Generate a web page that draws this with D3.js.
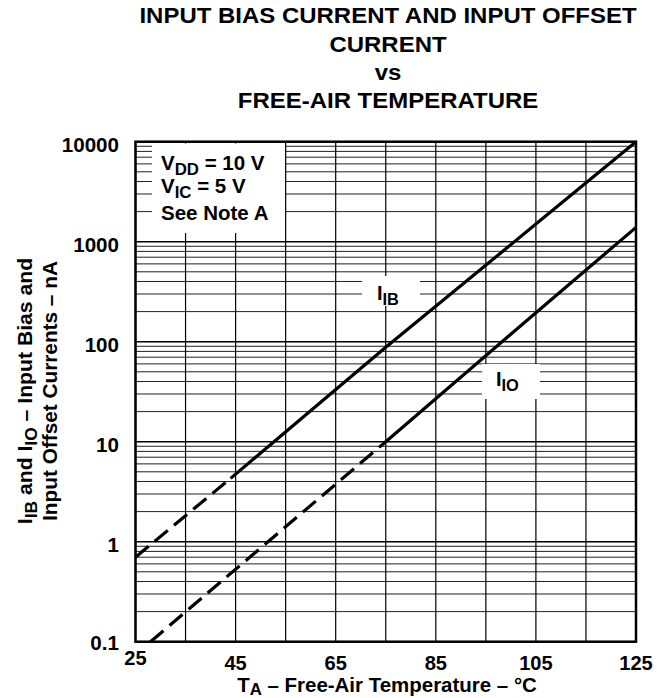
<!DOCTYPE html>
<html>
<head>
<meta charset="utf-8">
<script src="https://cdn.jsdelivr.net/npm/d3@7"></script>
<style>
  body { margin: 0; background: #fff; }
  svg { font-family: "Liberation Sans", Arial, sans-serif; font-weight: bold; }
</style>
</head>
<body>
<svg id="chart" width="657" height="698"></svg>
<script>
// chart values
const titleLines = ["INPUT BIAS CURRENT AND INPUT OFFSET", "CURRENT", "vs", "FREE-AIR TEMPERATURE"];
const xTicks = [25, 45, 65, 85, 105, 125];
const yTicks = [0.1, 1, 10, 100, 1000, 10000];
const yTickLabels = ["0.1", "1", "10", "100", "1000", "10000"];

// I_IB (dashed = extrapolated, solid = measured)
const ibDashedT = [25, 44];
const ibDashed = [0.7, 4.3];
const ibSolidT = [44, 75, 105, 125];
const ibSolid = [4.3, 88, 1500, 10000];

// I_IO
const ioDashedT = [28, 45, 75];
const ioDashed = [0.1, 0.53, 10];
const ioSolidT = [75, 105, 125];
const ioSolid = [10, 195, 1390];

const svg = d3.select("#chart");
const plotL = 135.5, plotR = 636, plotT = 141.7, plotB = 641.7;

const x = d3.scaleLinear().domain([25, 125]).range([plotL, plotR]);
const y = d3.scaleLog().domain([0.1, 10000]).range([plotB, plotT]);

// text with optional subscripts, parts = [[string, isSub], ...]
function label(parent, px, py, size, parts, anchor, sx, subDrop) {
  const g = parent.append("g")
    .attr("transform", `translate(${px},${py}) scale(${sx || 1},1)`);
  const t = g.append("text")
    .attr("text-anchor", anchor || "start")
    .style("font-size", size + "px");
  const drop = size * (subDrop || 0.25);
  let low = false;
  parts.forEach(p => {
    const sub = p[1];
    const s = t.append("tspan").text(p[0]);
    if (sub && !low) { s.attr("dy", drop).style("font-size", (size * 0.82) + "px"); low = true; }
    else if (sub) { s.style("font-size", (size * 0.82) + "px"); }
    else if (low) { s.attr("dy", -drop); low = false; }
  });
  return g;
}

// title
titleLines.forEach((d, i) => {
  label(svg, 388, [23, 52, 80, 108][i], 22, [[d]], "middle", 1.09);
});

// grid
const grid = svg.append("g");
const minor = [];
for (let e = -1; e < 4; e++) {
  for (let m = 2; m <= 9; m++) minor.push(m * Math.pow(10, e));
}
grid.selectAll(".minor")
  .data(minor)
  .enter()
  .append("line")
  .attr("x1", plotL).attr("x2", plotR)
  .attr("y1", d => y(d)).attr("y2", d => y(d))
  .attr("stroke", "#222")
  .attr("stroke-width", 1);

grid.selectAll(".major")
  .data(yTicks)
  .enter()
  .append("line")
  .attr("x1", plotL).attr("x2", plotR)
  .attr("y1", d => y(d)).attr("y2", d => y(d))
  .attr("stroke", "#000")
  .attr("stroke-width", 1.5);

grid.selectAll(".vert")
  .data(d3.range(25, 126, 10))
  .enter()
  .append("line")
  .attr("x1", d => x(d)).attr("x2", d => x(d))
  .attr("y1", plotT).attr("y2", plotB)
  .attr("stroke", "#000")
  .attr("stroke-width", 1.2);

// frame
svg.append("rect")
  .attr("x", plotL).attr("y", plotT)
  .attr("width", plotR - plotL).attr("height", plotB - plotT)
  .attr("fill", "none")
  .attr("stroke", "#000")
  .attr("stroke-width", 2.5);

// conditions box
svg.append("rect")
  .attr("x", 152).attr("y", 143.5)
  .attr("width", 133).attr("height", 89.5)
  .attr("fill", "#fff");
label(svg, 161, 170, 20.5, [["V"], ["DD", true], [" = 10 V"]]);
label(svg, 161, 193, 20.5, [["V"], ["IC", true], [" = 5 V"]]);
label(svg, 161, 220, 20.5, [["See Note A"]]);

// curves
const line = d3.line().x(d => x(d[0])).y(d => y(d[1]));
const curves = [
  { t: ibDashedT, v: ibDashed, dash: "17,8" },
  { t: ibSolidT, v: ibSolid, dash: null },
  { t: ioDashedT, v: ioDashed, dash: "17,8" },
  { t: ioSolidT, v: ioSolid, dash: null }
];
svg.append("g")
  .selectAll("path")
  .data(curves)
  .enter()
  .append("path")
  .attr("d", d => line(d3.zip(d.t, d.v)))
  .attr("fill", "none")
  .attr("stroke", "#000")
  .attr("stroke-width", 3.2)
  .attr("stroke-dasharray", d => d.dash);

// curve labels
svg.append("rect").attr("x", 362).attr("y", 276).attr("width", 58).attr("height", 30).attr("fill", "#fff");
svg.append("rect").attr("x", 482).attr("y", 364).attr("width", 58).attr("height", 35).attr("fill", "#fff");
label(svg, 377, 300, 20, [["I"], ["IB", true]]);
label(svg, 496, 386, 20, [["I"], ["IO", true]]);

// y tick labels
yTicks.forEach((d, i) => {
  label(svg, 119, y(d) + (d === 0.1 ? 8 : 10), 20, [[yTickLabels[i]]], "end", 1.03);
});

// x tick labels
xTicks.forEach(d => {
  label(svg, x(d), d === 25 ? 665 : 670, 19.5, [[String(d)]], "middle", 1.03);
});

// x axis title
label(svg, 387, 692, 19.5, [["T"], ["A", true], [" \u2013 Free-Air Temperature \u2013 \u00b0C"]], "middle", 1.05, 0.13);

// y axis title (two lines, rotated)
const yt = svg.append("g").attr("transform", "translate(0,391) rotate(-90)");
label(yt, 0, 32, 20, [["I"], ["IB", true], [" and I"], ["IO", true], [" \u2013 Input Bias and"]], "middle", 1.06);
label(yt, 0, 57, 20, [["Input Offset Currents \u2013 nA"]], "middle", 1.04);
</script>
</body>
</html>
